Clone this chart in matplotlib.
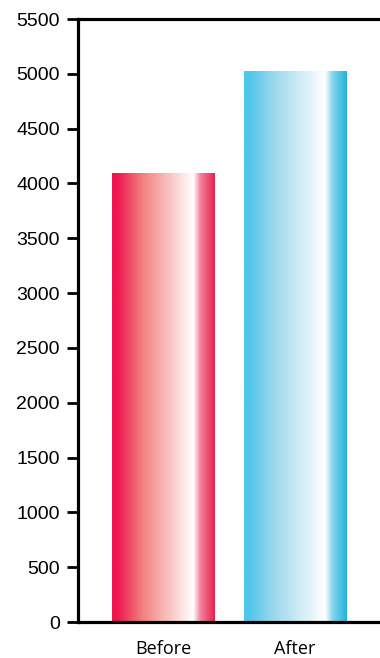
import numpy as np
import matplotlib.pyplot as plt
from matplotlib.colors import LinearSegmentedColormap, to_rgb

# values
labels = ['Before', 'After']
values = [4100, 5030]
left_colors = ['#EE1650', '#50C6EA']
mid_colors = ['#F2827F', '#9FD9EE']
right_colors = ['#E8204E', '#22B3DA']

y_ticks = list(range(0, 5501, 500))


def mix(c, w):
    c = np.array(to_rgb(c))
    return tuple(c + (1 - c) * w)


fig = plt.figure(figsize=(3.8, 6.58), dpi=100)
ax = fig.add_axes([0.205, 0.0547, 0.85, 0.9164])

bars = ax.bar(range(len(values)), values, width=0.774, color='none', edgecolor='none')

# horizontal shading inside each bar
grad = np.linspace(0, 1, 256).reshape(1, -1)
for bar, c1, cm, c2 in zip(bars, left_colors, mid_colors, right_colors):
    cmap = LinearSegmentedColormap.from_list('shade', [
        (0.0, c1), (0.05, c1), (0.3, cm), (0.79, (1, 1, 1)),
        (0.86, mix(c2, 0.45)), (1.0, c2)])
    x0, y0 = bar.get_x(), bar.get_y()
    im = ax.imshow(grad, cmap=cmap, aspect='auto', interpolation='bilinear',
                   extent=(x0, x0 + bar.get_width(), y0, y0 + bar.get_height()), zorder=2)
    im.set_clip_path(bar)

ax.set_xlim(-0.643, 1.8)
ax.set_ylim(0, 5500)
ax.set_yticks(y_ticks)
ax.set_xticks(range(len(labels)))
ax.set_xticklabels(labels, fontsize=13, family='Open Sans')

for s in ['left', 'bottom', 'top']:
    ax.spines[s].set_linewidth(2.3)
ax.spines['right'].set_visible(False)

ax.tick_params(axis='y', length=8, width=2, pad=5, labelsize=14)
ax.tick_params(axis='x', length=0, pad=13)
for t in ax.get_yticklabels():
    t.set_family('Liberation Sans')

fig.savefig('out.png', dpi=100)
